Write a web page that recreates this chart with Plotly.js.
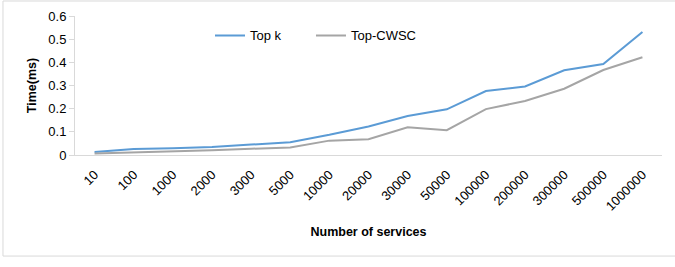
<!DOCTYPE html>
<html>
<head>
<meta charset="utf-8">
<script src="https://cdn.plot.ly/plotly-3.0.1.min.js"></script>
<style>
  html, body { margin: 0; padding: 0; background: #ffffff; }
  #chart { width: 675px; height: 267px; }
</style>
</head>
<body>
<div id="chart"></div>
<script>
// Query time against the number of services
const services = ['10', '100', '1000', '2000', '3000', '5000', '10000', '20000', '30000',
                  '50000', '100000', '200000', '300000', '500000', '1000000'];
const topK     = [0.013, 0.026, 0.029, 0.035, 0.045, 0.055, 0.087, 0.123, 0.168,
                  0.197, 0.276, 0.296, 0.366, 0.393, 0.531];
const topCWSC  = [0.006, 0.010, 0.013, 0.020, 0.027, 0.032, 0.062, 0.068, 0.120,
                  0.107, 0.198, 0.233, 0.286, 0.367, 0.422];
const yTicks   = [0, 0.1, 0.2, 0.3, 0.4, 0.5, 0.6];
const yTickText = ['0', '0.1', '0.2', '0.3', '0.4', '0.5', '0.6'];

const FONT = 'Liberation Sans, Arial, sans-serif';

const traces = [
  { x: services, y: topK, name: 'Top k', type: 'scatter', mode: 'lines',
    line: { color: '#5b9bd5', width: 2 }, legend: 'legend' },
  { x: services, y: topCWSC, name: 'Top-CWSC', type: 'scatter', mode: 'lines',
    line: { color: '#a5a5a5', width: 2 }, legend: 'legend2' }
];

const legendStyle = (x) => ({
  orientation: 'h', x: x, xanchor: 'left', y: 0.86, yanchor: 'middle',
  bgcolor: 'rgba(0,0,0,0)', font: { family: FONT, size: 13, color: '#000000' }
});

const layout = {
  width: 675, height: 267,
  margin: { l: 75, r: 13, t: 16, b: 112 },
  paper_bgcolor: '#ffffff', plot_bgcolor: '#ffffff',
  font: { family: FONT, size: 13, color: '#000000' },
  showlegend: true,
  legend: legendStyle(0.23),
  legend2: legendStyle(0.402),
  xaxis: {
    type: 'category', range: [-0.5, services.length - 0.5], tickangle: -45,
    showgrid: false, zeroline: false,
    showline: true, linecolor: '#d9d9d9', linewidth: 1, ticks: '', ticklabelstandoff: 6,
    tickfont: { family: FONT, size: 13 },
    title: { text: 'Number of services', font: { family: FONT, size: 12.5, color: '#000000', weight: 'bold' }, standoff: 14 }
  },
  yaxis: {
    range: [0, 0.6], tickvals: yTicks, ticktext: yTickText,
    showgrid: false, zeroline: false, showline: true, linecolor: '#d9d9d9', linewidth: 1,
    ticks: 'outside', ticklen: 5, tickcolor: '#d9d9d9',
    tickfont: { family: FONT, size: 13 },
    title: { text: 'Time(ms)', font: { family: FONT, size: 12.5, color: '#000000', weight: 'bold' }, standoff: 8 }
  },
  shapes: [{
    type: 'rect', xref: 'paper', yref: 'paper', layer: 'below',
    x0: -0.1227, x1: 1.05, y0: -0.727, y1: 1.108,
    line: { color: '#d9d9d9', width: 1 }, fillcolor: 'rgba(0,0,0,0)'
  }]
};

Plotly.newPlot('chart', traces, layout, { displayModeBar: false, staticPlot: true });
</script>
</body>
</html>
